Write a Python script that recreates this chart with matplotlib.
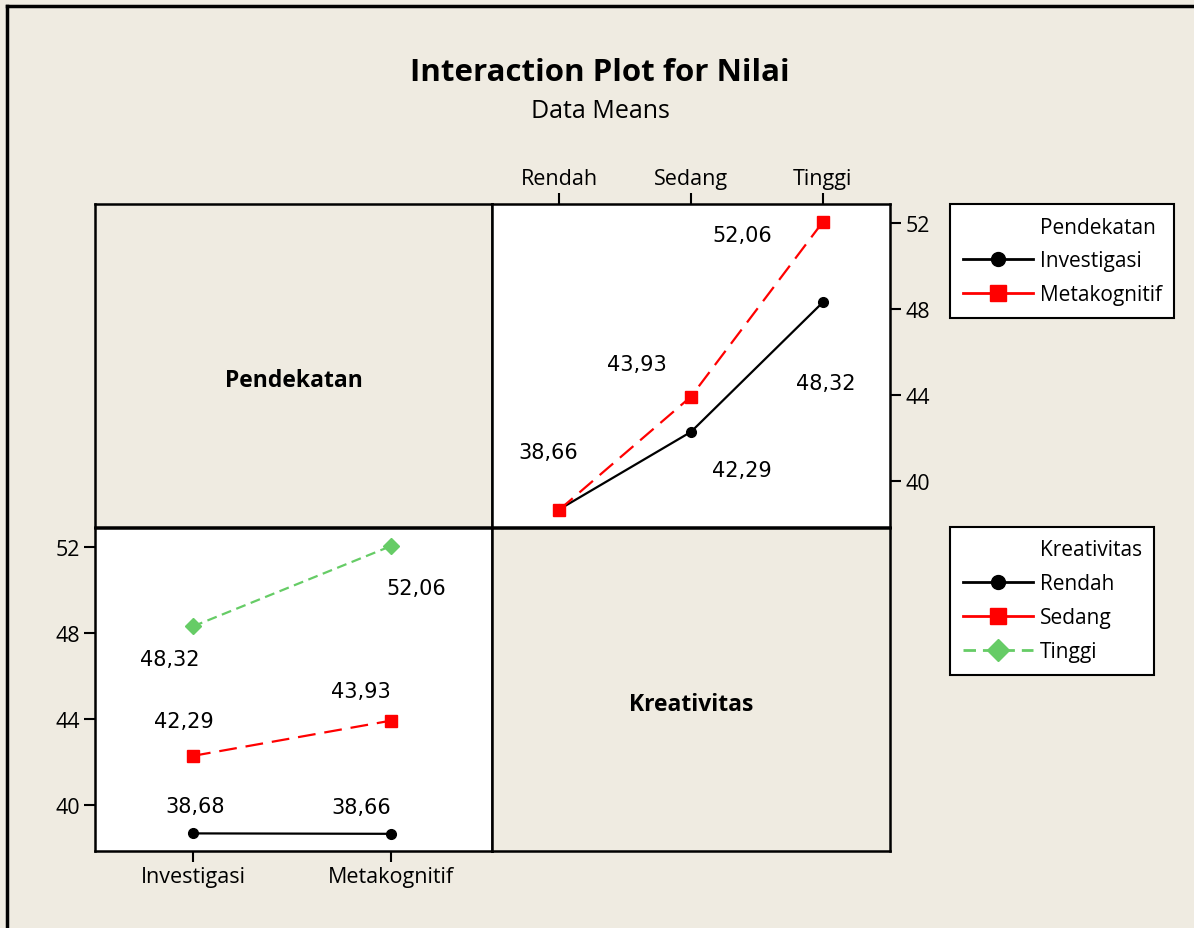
import matplotlib
matplotlib.use("Agg")
from matplotlib import pyplot as plt
from matplotlib.lines import Line2D

# Data means (Nilai) per factor level
pendekatan = ["Investigasi", "Metakognitif"]
kreativitas = ["Rendah", "Sedang", "Tinggi"]

# rows: Pendekatan, columns: Kreativitas
investigasi = [38.68, 42.29, 48.32]
metakognitif = [38.66, 43.93, 52.06]

y_ticks = [40, 44, 48, 52]

bg = "#EFEBE1"
red = "#FF0000"
green = "#66CC66"

plt.rcParams["font.family"] = ["DejaVu Sans"]

fig = plt.figure(figsize=(11.94, 9.29), dpi=100)
fig.patch.set_facecolor(bg)

# outer border (left and top visible)
fig.add_artist(Line2D([7/1194, 7/1194], [0, 1 - 7/929], color="black", lw=2.5, transform=fig.transFigure))
fig.add_artist(Line2D([7/1194, 1], [1 - 7/929, 1 - 7/929], color="black", lw=2.5, transform=fig.transFigure))

fig.text(600/1194, 1 - 73/929, "Interaction Plot for Nilai", ha="center", va="center",
         fontsize=22.5, fontweight="bold", family="Open Sans")
fig.text(600/1194, 1 - 112/929, "Data Means", ha="center", va="center", fontsize=18, family="Open Sans")

L, W = 95/1194, 397/1194
B_top, H = 1 - 528/929, 323/929
B_bot = 1 - 852/929
ylim = (37.86, 52.9)

def frame(ax, face):
    ax.set_facecolor(face)
    for s in ax.spines.values():
        s.set_linewidth(1.8)
        s.set_color("black")

ax_tl = fig.add_axes([L, B_top, W, H])
ax_tr = fig.add_axes([L + W, B_top, W + 1/1194, H])
ax_bl = fig.add_axes([L, B_bot, W, H])
ax_br = fig.add_axes([L + W, B_bot, W + 1/1194, H])

for ax in (ax_tl, ax_br):
    frame(ax, bg)
    ax.set_xticks([]); ax.set_yticks([])
ax_tl.text(0.5, 0.455, "Pendekatan", transform=ax_tl.transAxes, ha="center", va="center",
           fontsize=16.5, fontweight="bold", family="Open Sans")
ax_br.text(0.5, 0.455, "Kreativitas", transform=ax_br.transAxes, ha="center", va="center",
           fontsize=16.5, fontweight="bold", family="Open Sans")

tick_font = dict(fontsize=15.5, family="Open Sans")
lab_font = dict(fontsize=15, family="DejaVu Sans", ha="center", va="center")

# top right: x = Kreativitas, lines = Pendekatan
frame(ax_tr, "white")
xk = list(range(len(kreativitas)))
ax_tr.plot(xk, investigasi, color="black", lw=1.6, marker="o", ms=7)
ax_tr.plot(xk, metakognitif, color=red, lw=1.6, ls=(0, (8, 4)), marker="s", ms=8)
ax_tr.set_xlim(-0.51, 2.51)
ax_tr.set_ylim(*ylim)
ax_tr.set_xticks(xk)
ax_tr.set_xticklabels(kreativitas, **tick_font)
ax_tr.set_yticks(y_ticks)
ax_tr.set_yticklabels([str(v) for v in y_ticks], **tick_font)
ax_tr.xaxis.tick_top()
ax_tr.yaxis.tick_right()
ax_tr.tick_params(length=8, width=1.5, pad=3)

tr_off_inv = [None, (51, -38), (3, -81)]
tr_off_met = [(-11, 58), (-54, 33), (-81, -13)]
for i in xk:
    if tr_off_inv[i] is not None:
        ax_tr.annotate(f"{investigasi[i]:.2f}".replace(".", ","), (i, investigasi[i]),
                       xytext=tr_off_inv[i], textcoords="offset pixels", **lab_font)
    ax_tr.annotate(f"{metakognitif[i]:.2f}".replace(".", ","), (i, metakognitif[i]),
                   xytext=tr_off_met[i], textcoords="offset pixels", **lab_font)

# bottom left: x = Pendekatan, lines = Kreativitas
frame(ax_bl, "white")
xp = list(range(len(pendekatan)))
styles = [dict(color="black", lw=1.6, marker="o", ms=7),
          dict(color=red, lw=1.6, ls=(0, (8, 4)), marker="s", ms=8),
          dict(color=green, lw=1.6, ls=(0, (4.5, 2.5)), marker="D", ms=8)]
bl_off = [[(2, 27), (-30, 27)], [(-9, 35), (-30, 30)], [(-23, -33), (25, -42)]]
for k in range(len(kreativitas)):
    vals = [investigasi[k], metakognitif[k]]
    ax_bl.plot(xp, vals, **styles[k])
    for j in xp:
        ax_bl.annotate(f"{vals[j]:.2f}".replace(".", ","), (j, vals[j]),
                       xytext=bl_off[k][j], textcoords="offset pixels", **lab_font)
ax_bl.set_xlim(-0.495, 1.51)
ax_bl.set_ylim(*ylim)
ax_bl.set_xticks(xp)
ax_bl.set_xticklabels(pendekatan, **tick_font)
ax_bl.set_yticks(y_ticks)
ax_bl.set_yticklabels([str(v) for v in y_ticks], **tick_font)
ax_bl.tick_params(length=8, width=1.5, pad=3)

# legends
def add_legend(title, labels, stys, top):
    handles = [Line2D([], [], color="none")]
    for s in stys:
        h = dict(s)
        if h["color"] == red:
            h["ls"] = "-"
        h["ms"] = h["ms"] + 3
        h["lw"] = 2
        handles.append(Line2D([], [], **h))
    leg = fig.legend(handles, [title] + labels, loc="upper left",
                     bbox_to_anchor=(950/1194, top), frameon=True, fancybox=False,
                     handlelength=3.4, handletextpad=0.3, borderpad=0.6,
                     borderaxespad=0, labelspacing=0.62, prop=dict(family="Open Sans", size=15))
    fr = leg.get_frame()
    fr.set_edgecolor("black"); fr.set_linewidth(1.5); fr.set_facecolor("white"); fr.set_alpha(1)

add_legend("Pendekatan", pendekatan, styles[:2], 1 - 205/929)
add_legend("Kreativitas", kreativitas, styles, 1 - 528/929)

fig.savefig("out.png", dpi=100, facecolor=bg)
